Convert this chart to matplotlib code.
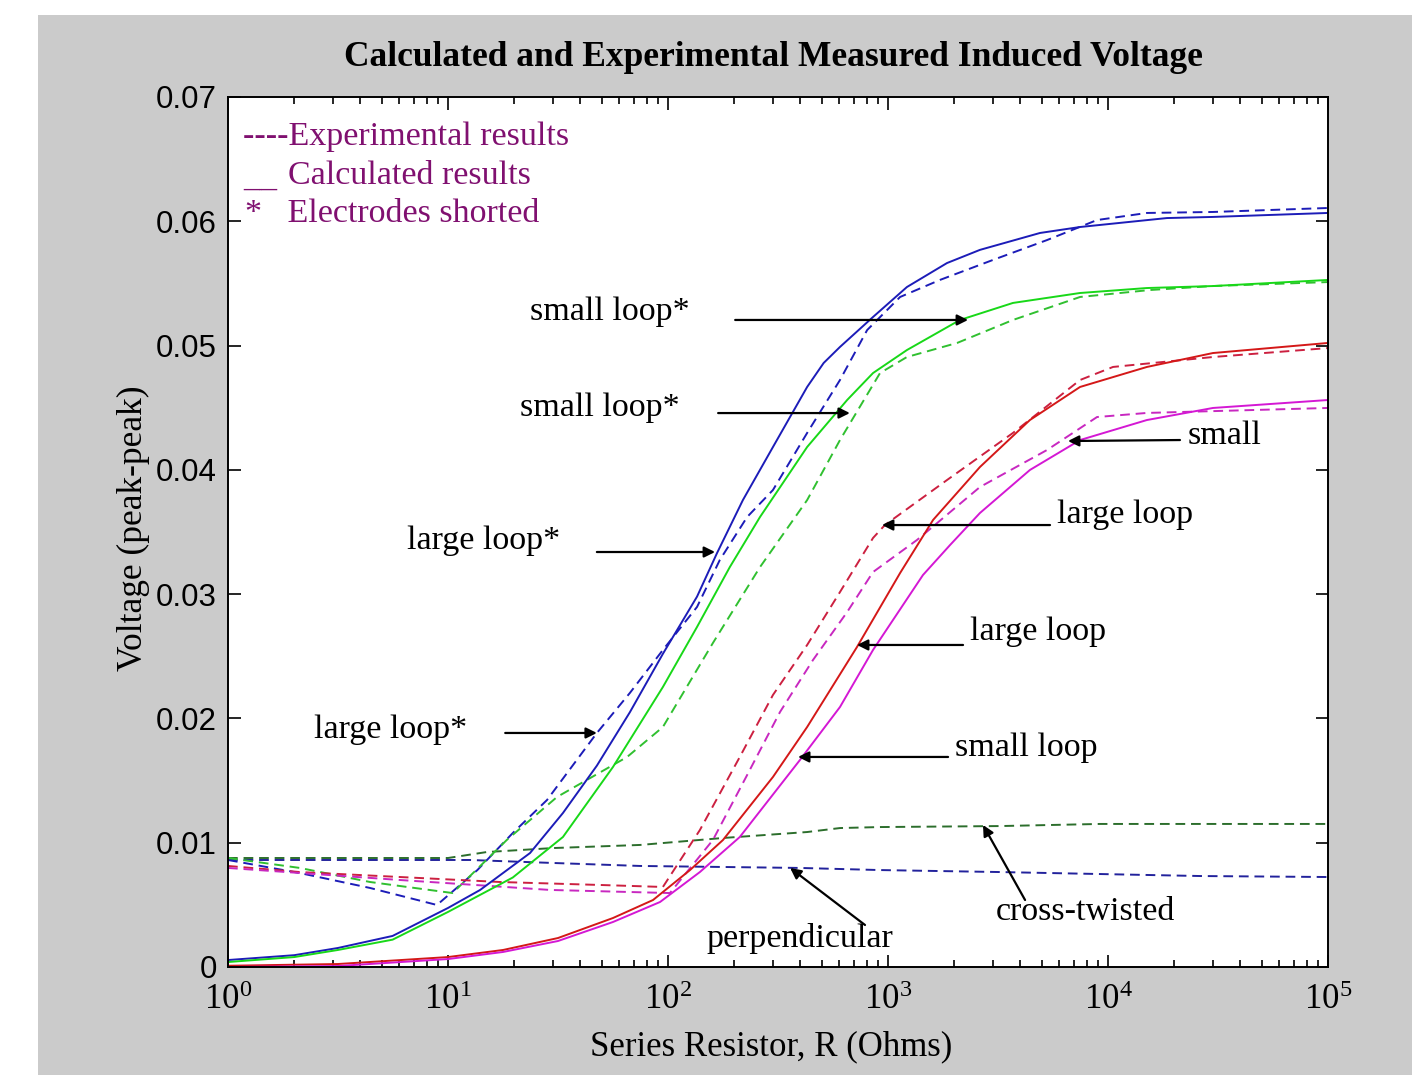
import math
import matplotlib
matplotlib.use("Agg")
import matplotlib.pyplot as plt
from matplotlib.patches import Rectangle
from matplotlib.ticker import LogLocator, FuncFormatter, NullFormatter, FixedLocator, FixedFormatter

# ---------------- data (R in ohms, V in volts peak-peak) ----------------
# calculated (solid)
r_calc_blue = [1, 2, 3.16, 5.6, 10, 14, 23.6, 33.3, 47.5, 67.1, 94.8, 135.5, 167, 219, 300, 429,
               510, 605, 855, 1219, 1854, 2618, 4909, 7464, 18530, 30000, 100000]
v_calc_blue = [0.00056, 0.00095, 0.00153, 0.0025, 0.00475, 0.0062, 0.00917, 0.01239, 0.0162,
               0.0205, 0.0252, 0.0298, 0.0333, 0.03757, 0.04184, 0.04667, 0.0486, 0.04989,
               0.0523, 0.05471, 0.05664, 0.0577, 0.05906, 0.05954, 0.06026, 0.06035, 0.06067]

r_calc_green = [1, 2, 3.16, 5.6, 10, 19.7, 33.3, 56.2, 94.8, 135.5, 191, 262, 429, 652, 855,
                1219, 2123, 3698, 7464, 15030, 30000, 100000]
v_calc_green = [0.0004, 0.0008, 0.00137, 0.0022, 0.00443, 0.0072, 0.01046, 0.01609, 0.02253,
                0.02736, 0.03218, 0.03621, 0.04184, 0.04562, 0.04779, 0.04964, 0.05206,
                0.05343, 0.05423, 0.05463, 0.05479, 0.05528]

r_calc_red = [1, 3.16, 10, 17.8, 31.6, 56.2, 85.5, 125.9, 177.8, 300, 429, 723, 1135, 1603,
              2618, 4416, 7464, 15030, 30000, 100000]
v_calc_red = [0.0001, 0.00024, 0.0008, 0.00137, 0.00233, 0.00394, 0.00539, 0.0078, 0.01022,
              0.01529, 0.01931, 0.02575, 0.0317, 0.03597, 0.04023, 0.04401, 0.04667, 0.04828,
              0.0494, 0.05021]

r_calc_mag = [1, 3.16, 10, 17.8, 31.6, 56.2, 92, 139.6, 212, 398, 605, 855, 1442, 1914,
              2618, 4416, 7464, 15030, 30000, 100000]
v_calc_mag = [0.0, 0.00008, 0.00064, 0.00121, 0.00209, 0.00362, 0.00523, 0.00764, 0.01046,
              0.01666, 0.02092, 0.02551, 0.03154, 0.03395, 0.03653, 0.03999, 0.0424, 0.04401,
              0.04498, 0.04562]

# experimental (dashed)
r_exp_blue = [1, 2.12, 4.42, 8.91, 13.6, 19.7, 28.2, 47.5, 67.1, 94.8, 135.5, 172, 229, 300,
              429, 605, 804, 1135, 1722, 3000, 5284, 8913, 15030, 30000, 100000]
v_exp_blue = [0.00861, 0.00756, 0.00636, 0.00499, 0.0078, 0.01078, 0.01344, 0.01883, 0.02205,
              0.02551, 0.02897, 0.03275, 0.03621, 0.03838, 0.04297, 0.04723, 0.05125, 0.05391,
              0.05528, 0.05689, 0.05849, 0.0601, 0.06067, 0.06075, 0.06107]

r_exp_green = [1, 2.12, 4.42, 10.5, 18.5, 31.3, 65.2, 94.8, 160, 262, 429, 605, 920, 1219,
               2061, 3698, 7464, 15520, 30000, 100000]
v_exp_green = [0.00877, 0.00797, 0.00684, 0.00595, 0.01022, 0.01368, 0.0169, 0.01931, 0.02607,
               0.03218, 0.03757, 0.0424, 0.04779, 0.04908, 0.05021, 0.05206, 0.05391, 0.05447,
               0.05479, 0.05511]

r_exp_red = [1, 2.12, 6.05, 17.2, 49.1, 94.8, 139.6, 212, 300, 429, 605, 855, 968, 1854,
             3698, 7464, 10540, 30000, 100000]
v_exp_red = [0.00813, 0.00764, 0.00724, 0.00684, 0.0066, 0.00644, 0.01102, 0.0169, 0.02189,
             0.02591, 0.03017, 0.03452, 0.03556, 0.03918, 0.04297, 0.04723, 0.04828, 0.04908,
             0.0498]

r_exp_mag = [1, 6.05, 29.1, 102, 160, 229, 323, 456, 652, 855, 1355, 2618, 5284, 8913, 15030,
             100000]
v_exp_mag = [0.00797, 0.007, 0.0062, 0.00595, 0.01022, 0.01545, 0.02052, 0.0247, 0.02856,
             0.03178, 0.03436, 0.03862, 0.0416, 0.04425, 0.04458, 0.04498]

r_cross = [1, 10, 15, 30, 74.6, 177.8, 429, 605, 920, 3228, 9204, 100000]
v_cross = [0.00877, 0.00877, 0.00925, 0.00957, 0.00982, 0.01038, 0.01086, 0.01118, 0.01126,
           0.01134, 0.01151, 0.01151]

r_perp = [1, 12.6, 30, 74.6, 398, 920, 3228, 9204, 26180, 100000]
v_perp = [0.00861, 0.00861, 0.00837, 0.00813, 0.00797, 0.0078, 0.00764, 0.00748, 0.00732,
          0.00724]

y_ticks = [0, 0.01, 0.02, 0.03, 0.04, 0.05, 0.06, 0.07]
y_tick_labels = ["0", "0.01", "0.02", "0.03", "0.04", "0.05", "0.06", "0.07"]

# annotations: (text, text R, text V, ha, tail R, tail V, tip R, tip V)
annotations = [
    ("small loop*", 126, 0.0527, "right", 202, 0.05206, 2311, 0.05206),
    ("small loop*", 113.5, 0.04498, "right", 169, 0.04457, 671, 0.04457),
    ("large loop*", 32.3, 0.03428, "right", 47.5, 0.03339, 163.6, 0.03339),
    ("large loop*", 12.2, 0.01907, "right", 18.2, 0.01883, 47.5, 0.01883),
    ("small", 23100, 0.04272, "left", 21240, 0.0424, 6580, 0.04232),
    ("large loop", 5865, 0.03637, "left", 5450, 0.03556, 939, 0.03556),
    ("large loop", 2360, 0.02695, "left", 2193, 0.02591, 723, 0.02591),
    ("small loop", 2018, 0.01762, "left", 1875, 0.0169, 390, 0.0169),
    ("perpendicular", 398, 0.00233, "center", 786, 0.00338, 359, 0.00797),
    ("cross-twisted", 7860, 0.00443, "center", 4198, 0.00539, 2703, 0.01143),
]

# ---------------- styling ----------------
SERIF = ["Liberation Serif", "DejaVu Serif"]
plt.rcParams["mathtext.fontset"] = "custom"
plt.rcParams["mathtext.rm"] = "Liberation Serif"

BLUE = "#1c1cb8"
GREEN = "#18d818"
RED = "#d41818"
MAG = "#d418d4"
DKGREEN = "#2c6e2c"
DKBLUE = "#22229c"
PURPLE = "#801070"
TXT = 24.5

fig = plt.figure(figsize=(14.12, 10.75), dpi=100, facecolor="white")
fig.patches.append(Rectangle((38 / 1412, 0), 1 - 38 / 1412, 1 - 15 / 1075,
                             transform=fig.transFigure, facecolor="#cbcbcb",
                             edgecolor="none", zorder=-10))

ax = fig.add_axes([228 / 1412, 1 - 967 / 1075, 1100 / 1412, 870 / 1075])
ax.set_facecolor("white")

lw = 1.4
dash = (5, 3)
ax.plot(r_cross, v_cross, color=DKGREEN, lw=lw, dashes=dash)
ax.plot(r_perp, v_perp, color=DKBLUE, lw=lw, dashes=dash)
ax.plot(r_exp_blue, v_exp_blue, color=BLUE, lw=lw, dashes=dash)
ax.plot(r_exp_green, v_exp_green, color="#30c030", lw=lw, dashes=dash)
ax.plot(r_exp_red, v_exp_red, color="#cc2040", lw=lw, dashes=dash)
ax.plot(r_exp_mag, v_exp_mag, color="#c828c0", lw=lw, dashes=dash)
ax.plot(r_calc_blue, v_calc_blue, color=BLUE, lw=lw)
ax.plot(r_calc_green, v_calc_green, color=GREEN, lw=lw)
ax.plot(r_calc_red, v_calc_red, color=RED, lw=lw)
ax.plot(r_calc_mag, v_calc_mag, color=MAG, lw=lw)

ax.set_xscale("log")
ax.set_xlim(1, 1e5)
ax.set_ylim(0, 0.07)

ax.yaxis.set_major_locator(FixedLocator(y_ticks))
ax.yaxis.set_major_formatter(FixedFormatter(y_tick_labels))
ax.xaxis.set_major_locator(LogLocator(base=10, numticks=10))
ax.xaxis.set_minor_locator(LogLocator(base=10, subs=range(2, 10), numticks=50))
ax.xaxis.set_minor_formatter(NullFormatter())
ax.xaxis.set_major_formatter(FuncFormatter(
    lambda v, p: r"$\mathregular{10^{%d}}$" % round(math.log10(v))))

ax.tick_params(which="both", direction="in", top=True, right=True, width=1.2, color="black")
ax.tick_params(which="major", length=9)
ax.tick_params(which="minor", length=5)
ax.tick_params(axis="y", labelsize=22.5, pad=8)
ax.tick_params(axis="x", labelsize=25, pad=12)
for lab in ax.get_yticklabels():
    lab.set_fontfamily(["Liberation Sans", "DejaVu Sans"])
for lab in ax.get_xticklabels():
    lab.set_fontfamily(SERIF)
for s in ax.spines.values():
    s.set_linewidth(1.4)

# titles and labels
fig.text(773 / 1412, 1 - 57 / 1075, "Calculated and Experimental Measured Induced Voltage",
         ha="center", va="center", fontsize=25.5, fontweight="bold", family=SERIF)
fig.text(771 / 1412, 1 - 1047 / 1075, "Series Resistor, R (Ohms)",
         ha="center", va="center", fontsize=25, family=SERIF)
fig.text(133 / 1412, 1 - 528 / 1075, "Voltage (peak-peak)", rotation=90,
         ha="center", va="center", fontsize=25.5, family=SERIF)

# legend-like text
ax.text(0.0136, 0.954, "----Experimental results", transform=ax.transAxes, color=PURPLE,
        fontsize=TXT, family=SERIF, va="center", ha="left")
ax.text(0.0545, 0.910, "Calculated results", transform=ax.transAxes, color=PURPLE,
        fontsize=TXT, family=SERIF, va="center", ha="left")
ax.text(0.0136, 0.890, "__", transform=ax.transAxes, color=PURPLE,
        fontsize=TXT, family=SERIF, va="bottom", ha="left")
ax.text(0.0155, 0.8655, "*   Electrodes shorted", transform=ax.transAxes, color=PURPLE,
        fontsize=TXT, family=SERIF, va="center", ha="left")

# annotations
for txt, tx, ty, ha, ax0, ay0, ax1, ay1 in annotations:
    ax.text(tx, ty, txt, ha=ha, va="center", fontsize=TXT, family=SERIF, color="black")
    ax.annotate("", xy=(ax1, ay1), xytext=(ax0, ay0),
                arrowprops=dict(arrowstyle="-|>", color="black", lw=1.6,
                                mutation_scale=16, shrinkA=0, shrinkB=0))

fig.savefig("out.png", dpi=100, facecolor=fig.get_facecolor())
